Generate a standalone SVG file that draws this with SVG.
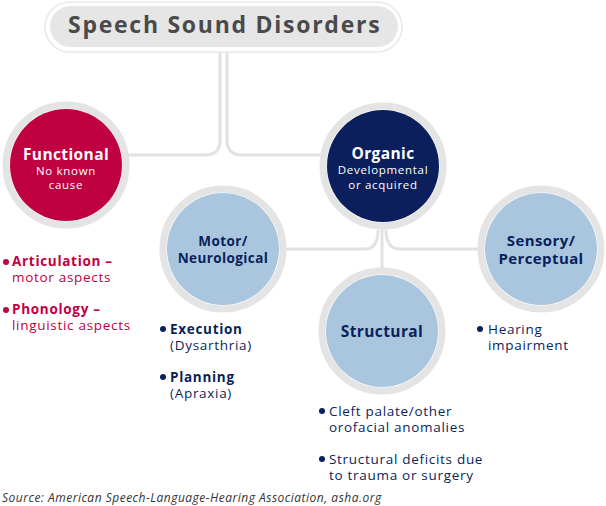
<svg xmlns="http://www.w3.org/2000/svg" width="606" height="506" viewBox="0 0 606 506">
<style>
text{font-family:"Open Sans","Noto Sans","Liberation Sans",sans-serif}
.ring{fill:#fff;stroke:#e4e4e4;stroke-width:7}
.conn{fill:none;stroke:#e2e2e2;stroke-width:3}
.h{font-weight:700;text-anchor:middle;letter-spacing:0.4px}
.s{text-anchor:middle;font-size:11.5px;letter-spacing:0.7px;fill:#fff}
.li{font-size:13.5px;letter-spacing:0.7px}
.b{font-weight:700}
</style>
<g id="connectors">
<path class="conn" d="M220,50 V140 Q220,155 205,155 H120"/>
<path class="conn" d="M227,50 V140 Q227,155 242,155 H330"/>
<path class="conn" d="M285,249 H365 Q378,249 378,230"/>
<path class="conn" d="M382,225 V270"/>
<path class="conn" d="M386,230 Q386,249 400,249 H480"/>
</g>
<g id="title">
<rect x="45" y="2" width="357" height="50" rx="25" fill="#fff" stroke="#e8e8e8" stroke-width="1.5"/>
<rect x="50" y="6" width="348" height="41" rx="20.5" fill="#e6e6e6"/>
<text x="224" y="33" class="h" font-size="23" fill="#4a4a4a" textLength="312" lengthAdjust="spacing">Speech Sound Disorders</text>
</g>
<g id="functional">
<circle cx="66" cy="165" r="60" class="ring"/>
<circle cx="66" cy="165" r="56" fill="#bf0041"/>
<text x="66" y="160" class="h" font-size="15.5" fill="#fff">Functional</text>
<text x="66" y="175" class="s">No known</text>
<text x="66" y="189" class="s">cause</text>
<g fill="#bf0041" class="li">
<circle cx="6" cy="262" r="3"/>
<text x="12" y="266" class="b">Articulation –</text>
<text x="12" y="282">motor aspects</text>
<circle cx="6" cy="310" r="3"/>
<text x="12" y="314" class="b">Phonology –</text>
<text x="12" y="330">linguistic aspects</text>
</g>
</g>
<g id="organic">
<circle cx="383" cy="166" r="60" class="ring"/>
<circle cx="383" cy="166" r="56" fill="#0a1f5c"/>
<text x="383" y="159" class="h" font-size="15.5" fill="#fff">Organic</text>
<text x="383" y="174" class="s">Developmental</text>
<text x="383" y="189" class="s">or acquired</text>
</g>
<g id="motor">
<circle cx="223" cy="249" r="60" class="ring"/>
<circle cx="223" cy="249" r="56" fill="#a9c6de"/>
<text x="223" y="246" class="h" font-size="13.5" fill="#0a1f5c">Motor/</text>
<text x="223" y="263" class="h" font-size="13.5" fill="#0a1f5c">Neurological</text>
<g fill="#0a1f5c" class="li">
<circle cx="163" cy="329" r="3"/>
<text x="170" y="334" class="b">Execution</text>
<text x="170" y="350">(Dysarthria)</text>
<circle cx="163" cy="377" r="3"/>
<text x="170" y="382" class="b">Planning</text>
<text x="170" y="398">(Apraxia)</text>
</g>
</g>
<g id="structural">
<circle cx="382" cy="331" r="60" class="ring"/>
<circle cx="382" cy="331" r="56" fill="#a9c6de"/>
<text x="382" y="337" class="h" font-size="15.5" fill="#0a1f5c">Structural</text>
<g fill="#0a1f5c" class="li">
<circle cx="322" cy="411" r="3"/>
<text x="329" y="416">Cleft palate/other</text>
<text x="329" y="432">orofacial anomalies</text>
<circle cx="322" cy="459" r="3"/>
<text x="329" y="464">Structural deficits due</text>
<text x="329" y="480">to trauma or surgery</text>
</g>
</g>
<g id="sensory">
<circle cx="541" cy="249" r="60" class="ring"/>
<circle cx="541" cy="249" r="56" fill="#a9c6de"/>
<text x="541" y="246" class="h" font-size="15" fill="#0a1f5c">Sensory/</text>
<text x="541" y="264" class="h" font-size="15" fill="#0a1f5c">Perceptual</text>
<g fill="#0a1f5c" class="li">
<circle cx="480" cy="329" r="3"/>
<text x="488" y="334">Hearing</text>
<text x="488" y="350">impairment</text>
</g>
</g>
<text x="2" y="502" font-size="12" font-style="italic" fill="#333" letter-spacing="0.5">Source: American Speech-Language-Hearing Association, asha.org</text>
</svg>
